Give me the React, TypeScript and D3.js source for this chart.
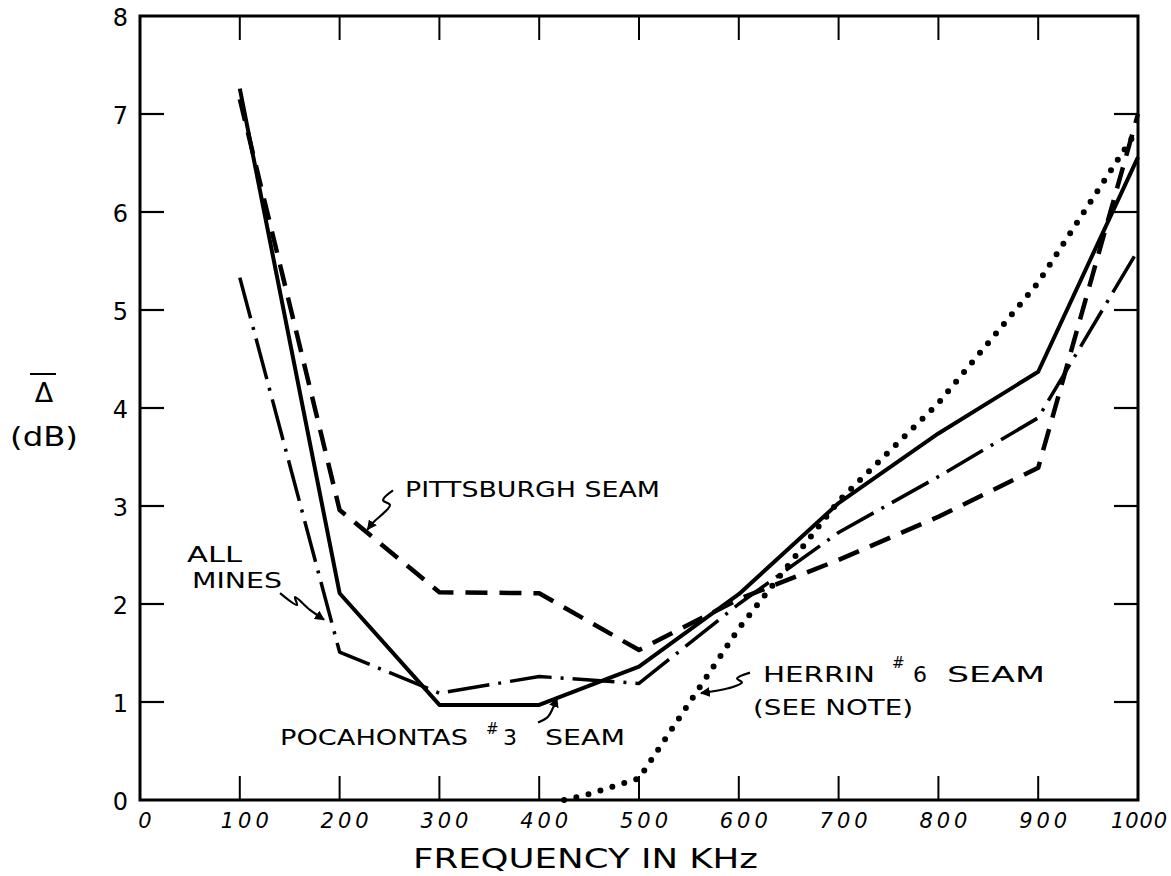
import React from 'react';
import * as d3 from 'd3';

// ---- data ----
const freqs = [100, 200, 300, 400, 500, 600, 700, 800, 900, 1000];
const allMines = [5.33, 1.51, 1.09, 1.26, 1.19, 2.0, 2.73, 3.3, 3.9, 5.61];
const pocahontas = [7.26, 2.11, 0.97, 0.97, 1.36, 2.1, 3.03, 3.74, 4.37, 6.56];
const pittsburgh = [7.15, 2.96, 2.12, 2.11, 1.53, 2.05, 2.45, 2.89, 3.39, 7.0];
const herrinFreqs = [425, 450, 475, 500, 600, 700, 800, 900, 1000];
const herrin = [0, 0.06, 0.14, 0.22, 1.75, 3.05, 4.05, 5.28, 6.85];
const xTicks = [0, 100, 200, 300, 400, 500, 600, 700, 800, 900, 1000];
const yTicks = [0, 1, 2, 3, 4, 5, 6, 7, 8];

// annotation leader arrows, in data units (kHz, dB)
const pittsburghArrow: [number, number][] = [[253.5, 3.16], [243.5, 3.06], [250.5, 3.01], [233.5, 2.83], [228, 2.76]];
const allMinesArrow: [number, number][] = [[140.3, 2.11], [157.3, 1.99], [155.3, 2.07], [170.3, 1.94], [184.4, 1.84]];
const pocahontasArrow: [number, number][] = [[398.8, 0.79], [408.8, 0.85], [413.8, 0.94], [417.8, 1.04]];
const herrinArrow: [number, number][] = [[611.2, 1.30], [598.2, 1.24], [603.2, 1.20], [593.2, 1.15], [562.1, 1.09]];

const W = 1171;
const H = 876;
const X = d3.scaleLinear().domain([0, 1000]).range([140, 1138]);
const Y = d3.scaleLinear().domain([0, 8]).range([800, 16]);

const FONT = '"DejaVu Sans", "Liberation Sans", sans-serif';

function zip(xs: number[], ys: number[]): [number, number][] {
  return xs.map((f, i) => [f, ys[i]]);
}

export default function App() {
  const line = d3.line<[number, number]>().x(d => X(d[0])).y(d => Y(d[1]));
  const leader = d3.line<[number, number]>().x(d => X(d[0])).y(d => Y(d[1])).curve(d3.curveCatmullRom);

  const tickLen = 24;
  const innerX = xTicks.filter(t => t > 0 && t < 1000);
  const innerY = yTicks.filter(t => t > 0 && t < 8);

  const labelLen = (t: number) => {
    const n = String(t).length;
    return n === 4 ? 56 : n === 3 ? 48 : undefined;
  };

  return (
    <svg width={W} height={H} viewBox={`0 0 ${W} ${H}`}
      style={{ position: 'absolute', left: 0, top: 0, display: 'block', background: '#fff' }}>
      <defs>
        <marker id="ah" viewBox="0 0 10 10" refX="9" refY="5" markerWidth="4.5" markerHeight="4.5" orient="auto-start-reverse">
          <path d="M0,0 L10,5 L0,10 z" fill="#000" />
        </marker>
      </defs>

      {/* frame */}
      <rect x={X(0)} y={Y(8)} width={X(1000) - X(0)} height={Y(0) - Y(8)} fill="none" stroke="#000" strokeWidth={3} />

      {/* ticks */}
      {innerX.map(t => (
        <g key={'xt' + t}>
          <line x1={X(t)} x2={X(t)} y1={Y(0)} y2={Y(0) - tickLen} stroke="#000" strokeWidth={2} />
          <line x1={X(t)} x2={X(t)} y1={Y(8)} y2={Y(8) + tickLen} stroke="#000" strokeWidth={2} />
        </g>
      ))}
      {innerY.map(t => (
        <g key={'yt' + t}>
          <line x1={X(0)} x2={X(0) + tickLen} y1={Y(t)} y2={Y(t)} stroke="#000" strokeWidth={2.2} />
          <line x1={X(1000)} x2={X(1000) - tickLen} y1={Y(t)} y2={Y(t)} stroke="#000" strokeWidth={2.2} />
        </g>
      ))}

      {/* tick labels */}
      {yTicks.map(t => (
        <text key={'yl' + t} x={X(0) - 12} y={Y(t) + 10} textAnchor="end" fontFamily={FONT} fontSize={24} fill="#000">{t}</text>
      ))}
      {xTicks.map(t => (
        <text key={'xl' + t} x={X(t) + (t === 1000 ? 1 : 5)} y={Y(0) + 28} textAnchor="middle" fontFamily={FONT} fontSize={21}
          fontStyle="italic" textLength={labelLen(t)} lengthAdjust={labelLen(t) ? 'spacing' : undefined} fill="#000">{t}</text>
      ))}

      {/* series */}
      <path d={line(zip(freqs, pocahontas)) || ''} fill="none" stroke="#000" strokeWidth={4} strokeLinejoin="round" />
      <path d={line(zip(freqs, pittsburgh)) || ''} fill="none" stroke="#000" strokeWidth={4.5} strokeDasharray="22 12" strokeLinejoin="round" />
      <path d={line(zip(freqs, allMines)) || ''} fill="none" stroke="#000" strokeWidth={3.5} strokeDasharray="42 9 3 9" strokeLinejoin="round" />
      <path d={line(zip(herrinFreqs, herrin)) || ''} fill="none" stroke="#000" strokeWidth={6} strokeDasharray="0 12.5" strokeLinecap="round" />

      {/* leader arrows */}
      <path d={leader(pittsburghArrow) || ''} fill="none" stroke="#000" strokeWidth={2.2} markerEnd="url(#ah)" />
      <path d={leader(allMinesArrow) || ''} fill="none" stroke="#000" strokeWidth={2.2} markerEnd="url(#ah)" />
      <path d={leader(pocahontasArrow) || ''} fill="none" stroke="#000" strokeWidth={2.2} markerEnd="url(#ah)" />
      <path d={leader(herrinArrow) || ''} fill="none" stroke="#000" strokeWidth={2.2} markerEnd="url(#ah)" />

      {/* annotations */}
      <g fontFamily={FONT} fill="#000">
        <text x={405} y={497} fontSize={22} textLength={255} lengthAdjust="spacingAndGlyphs">PITTSBURGH SEAM</text>
        <text x={187} y={562} fontSize={22} textLength={55} lengthAdjust="spacingAndGlyphs">ALL</text>
        <text x={192} y={588} fontSize={22} textLength={90} lengthAdjust="spacingAndGlyphs">MINES</text>
        <text x={280} y={745} fontSize={22} textLength={188} lengthAdjust="spacingAndGlyphs">POCAHONTAS</text>
        <text x={486} y={734} fontSize={15}>#</text>
        <text x={503} y={745} fontSize={22}>3</text>
        <text x={545} y={745} fontSize={22} textLength={80} lengthAdjust="spacingAndGlyphs">SEAM</text>
        <text x={763} y={682} fontSize={22} textLength={112} lengthAdjust="spacingAndGlyphs">HERRIN</text>
        <text x={892} y={668} fontSize={15}>#</text>
        <text x={913} y={682} fontSize={22}>6</text>
        <text x={947} y={682} fontSize={22} textLength={98} lengthAdjust="spacingAndGlyphs">SEAM</text>
        <text x={753} y={715} fontSize={21} textLength={160} lengthAdjust="spacingAndGlyphs">(SEE NOTE)</text>
        <text x={413} y={868} fontSize={27} textLength={345} lengthAdjust="spacingAndGlyphs">FREQUENCY IN KHz</text>
        <line x1={30} x2={56} y1={374} y2={374} stroke="#000" strokeWidth={2} />
        <text x={44} y={402} fontSize={27} textAnchor="middle">Δ</text>
        <text x={10} y={446} fontSize={27} textLength={68} lengthAdjust="spacingAndGlyphs">(dB)</text>
      </g>
    </svg>
  );
}
